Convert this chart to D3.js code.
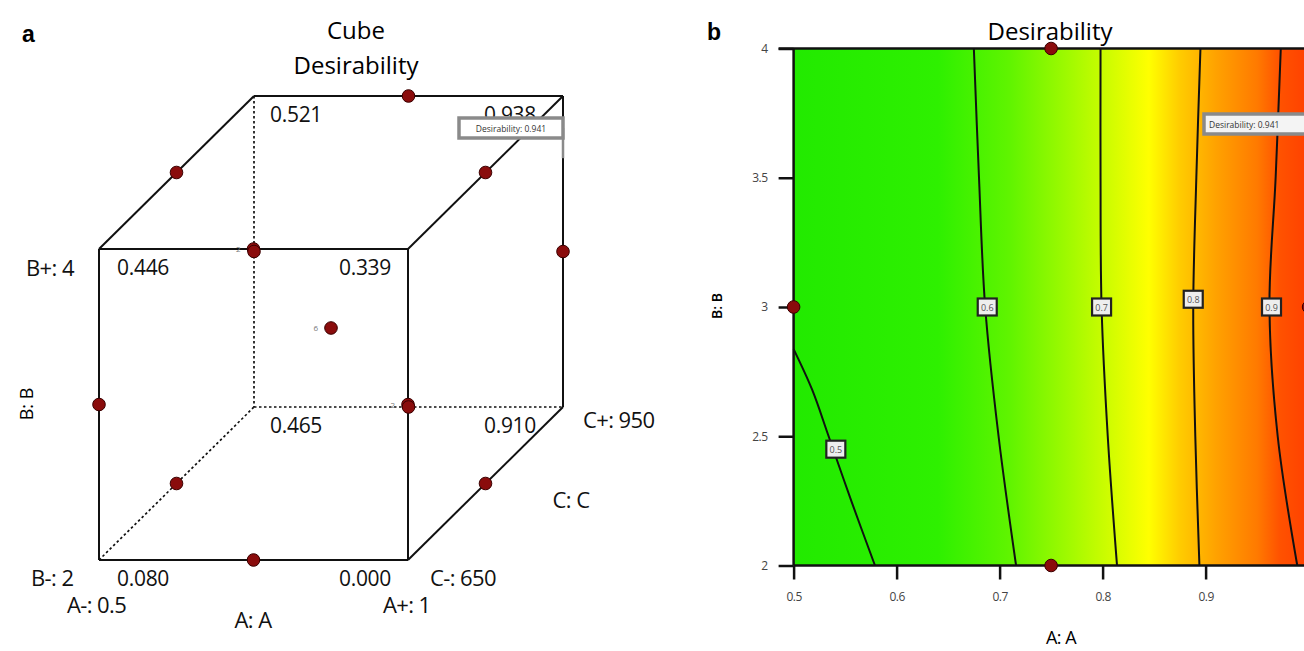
<!DOCTYPE html>
<html>
<head>
<meta charset="utf-8">
<script src="https://cdn.jsdelivr.net/npm/d3@7"></script>
<style>
  html, body { margin: 0; padding: 0; background: #fff; }
  svg { display: block; font-family: "Open Sans", "Noto Sans", sans-serif; }
</style>
</head>
<body>
<svg id="chart" width="1304" height="651"></svg>
<script>
// ---------------- DATA ----------------
// Panel a: cube corners (coded levels A, B, C) and desirability values
const cubeCorners = [
  { A: -1, B:  1, C: -1, value: "0.446" },
  { A:  1, B:  1, C: -1, value: "0.339" },
  { A: -1, B: -1, C: -1, value: "0.080" },
  { A:  1, B: -1, C: -1, value: "0.000" },
  { A: -1, B:  1, C:  1, value: "0.521" },
  { A:  1, B:  1, C:  1, value: "0.938" },
  { A: -1, B: -1, C:  1, value: "0.465" },
  { A:  1, B: -1, C:  1, value: "0.910" }
];
// Box-Behnken design points (edge midpoints + centre)
const cubePoints = [
  { A: 0, B: 1, C: 1 }, { A: -1, B: 1, C: 0 }, { A: 1, B: 1, C: 0 },
  { A: 0, B: 1, C: -1 }, { A: -1, B: 0, C: 1 }, { A: 1, B: 0, C: 1 },
  { A: 0, B: 0, C: 0 }, { A: -1, B: 0, C: -1 }, { A: 1, B: 0, C: -1 },
  { A: 0, B: -1, C: 1 }, { A: -1, B: -1, C: 0 }, { A: 1, B: -1, C: 0 },
  { A: 0, B: -1, C: -1 }
];
const cubeCounts = [
  { A: 0, B: 1, C: -1, n: "2" },
  { A: 1, B: 0, C: -1, n: "2" },
  { A: 0, B: 0, C: 0, n: "6" }
];
const cubeFlagText = "Desirability: 0.941";
const cubeFlagPoint = { A: 1, B: 0.6, C: 1 };

// Panel b: contour plot of desirability over A (x) and B (y)
const xDomain = [0.5, 1.0];
const yDomain = [2, 4];
const xTicks = [0.5, 0.6, 0.7, 0.8, 0.9];
const yTicks = [2, 2.5, 3, 3.5, 4];
const xTickLabels = ["0.5", "0.6", "0.7", "0.8", "0.9"];
const yTickLabels = ["2", "2.5", "3", "3.5", "4"];
// colour ramp along A (desirability rises with A)
const rampA = [0.5, 0.64, 0.71, 0.77, 0.81, 0.845, 0.875, 0.91, 0.95, 0.972, 1.0];
const rampColors = ["#22ea00", "#2ef000", "#60f400", "#a4fa00", "#d4fd00", "#ffff00",
                    "#ffcc00", "#ffa200", "#ff7a00", "#ff5200", "#ff4000"];
// contour lines (A, B) points
const contour05 = [[0.5, 2.837], [0.518, 2.68], [0.534, 2.5], [0.556, 2.25], [0.579, 2.0]];
const contour06 = [[0.675, 4.0], [0.680, 3.5], [0.686, 3.0], [0.699, 2.5], [0.716, 2.0]];
const contour07 = [[0.798, 4.0], [0.798, 3.5], [0.799, 3.0], [0.805, 2.5], [0.814, 2.0]];
const contour08 = [[0.895, 4.0], [0.891, 3.5], [0.888, 3.0], [0.890, 2.5], [0.894, 2.0]];
const contour09 = [[0.973, 4.0], [0.968, 3.5], [0.962, 3.0], [0.970, 2.5], [0.989, 2.0]];
const contourLevels = ["0.5", "0.6", "0.7", "0.8", "0.9"];
const contourLabelPos = [[0.541, 2.45], [0.688, 3.0], [0.799, 3.0], [0.888, 3.03], [0.964, 3.0]];
const designPointsB = [[0.5, 3], [1.0, 3], [0.75, 2], [0.75, 4]];
const plotFlagText = "Desirability: 0.941";

// ---------------- DRAW ----------------
const svg = d3.select("#chart");
const dotFill = "#8a0c0c", dotStroke = "#3a0000";

// ===== Panel a: cube =====
const gA = svg.append("g");
const sx = d3.scaleLinear().domain([-1, 1]).range([99, 408]);
const sy = d3.scaleLinear().domain([-1, 1]).range([560, 249]);
const sdx = d3.scaleLinear().domain([-1, 1]).range([0, 155]);
const sdy = d3.scaleLinear().domain([-1, 1]).range([0, -153]);
const px = d => sx(d.A) + sdx(d.C);
const py = d => sy(d.B) + sdy(d.C);

// edges between corners differing in one coordinate
const edges = [];
cubeCorners.forEach((p, i) => cubeCorners.forEach((q, j) => {
  if (j <= i) return;
  const diff = (p.A !== q.A) + (p.B !== q.B) + (p.C !== q.C);
  if (diff === 1) {
    const hidden = [p, q].some(c => c.A === -1 && c.B === -1 && c.C === 1);
    edges.push({ p, q, hidden });
  }
}));
gA.selectAll("line.edge").data(edges).join("line")
  .attr("x1", d => px(d.p)).attr("y1", d => py(d.p))
  .attr("x2", d => px(d.q)).attr("y2", d => py(d.q))
  .attr("stroke", "#111")
  .attr("stroke-width", d => d.hidden ? 1.7 : 2)
  .attr("stroke-dasharray", d => d.hidden ? "2.5,2.5" : null);

// corner values
gA.selectAll("text.corner").data(cubeCorners).join("text")
  .attr("x", d => px(d) + (d.A < 0 ? (d.C > 0 ? 16 : 18) : (d.C > 0 ? -27 : -17)))
  .attr("y", d => py(d) + 26)
  .attr("text-anchor", d => d.A < 0 ? "start" : "end")
  .attr("font-size", 21).attr("fill", "#111").attr("letter-spacing", -0.3)
  .text(d => d.value);

// design points
gA.selectAll("circle.pt").data(cubePoints).join("circle")
  .attr("cx", px).attr("cy", py).attr("r", 6.3)
  .attr("fill", dotFill).attr("stroke", dotStroke).attr("stroke-width", 1);
gA.selectAll("text.cnt").data(cubeCounts).join("text")
  .attr("x", d => px(d) - 13).attr("y", d => py(d) + 3)
  .attr("font-size", 8).attr("fill", "#777").attr("text-anchor", "end")
  .text(d => d.n);

// flag
const fxA = px(cubeFlagPoint), fyA = py(cubeFlagPoint);
gA.append("line").attr("x1", fxA).attr("x2", fxA).attr("y1", 128).attr("y2", fyA)
  .attr("stroke", "#8a8a8a").attr("stroke-width", 2.5);
gA.append("rect").attr("x", 459).attr("y", 118).attr("width", 104).attr("height", 20)
  .attr("fill", "#fff").attr("stroke", "#8a8a8a").attr("stroke-width", 3.5);
gA.append("text").attr("x", 511).attr("y", 131.5).attr("text-anchor", "middle")
  .attr("font-size", 8.5).attr("fill", "#333").text(cubeFlagText);

// titles and labels
gA.append("text").attr("x", 22).attr("y", 42).attr("font-family", "Liberation Sans, Arial, sans-serif")
  .attr("font-weight", "bold").attr("font-size", 23).text("a");
gA.append("text").attr("x", 356).attr("y", 39).attr("text-anchor", "middle").attr("font-size", 24).text("Cube");
gA.append("text").attr("x", 356).attr("y", 74).attr("text-anchor", "middle").attr("font-size", 24).text("Desirability");
const axisLabA = [
  { x: 26, y: 276, t: "B+: 4", a: "start" },
  { x: 31, y: 586, t: "B-: 2", a: "start" },
  { x: 67, y: 613, t: "A-: 0.5", a: "start" },
  { x: 383, y: 613, t: "A+: 1", a: "start" },
  { x: 253, y: 628, t: "A: A", a: "middle" },
  { x: 583, y: 428, t: "C+: 950", a: "start" },
  { x: 430, y: 586, t: "C-: 650", a: "start" },
  { x: 571, y: 508, t: "C: C", a: "middle" }
];
gA.selectAll("text.axl").data(axisLabA).join("text")
  .attr("x", d => d.x).attr("y", d => d.y).attr("text-anchor", d => d.a)
  .attr("font-size", 22).attr("fill", "#111").attr("letter-spacing", -0.6).text(d => d.t);
gA.append("text").attr("transform", "translate(33,404) rotate(-90)")
  .attr("text-anchor", "middle").attr("font-size", 18).text("B: B");

// ===== Panel b: contour =====
const gB = svg.append("g");
const x = d3.scaleLinear().domain(xDomain).range([793.6, 1308.6]);
const y = d3.scaleLinear().domain(yDomain).range([565.5, 48.5]);

const defs = svg.append("defs");
const grad = defs.append("linearGradient").attr("id", "ramp")
  .attr("gradientUnits", "userSpaceOnUse")
  .attr("x1", x(xDomain[0])).attr("x2", x(xDomain[1])).attr("y1", 0).attr("y2", 0);
grad.selectAll("stop").data(rampA).join("stop")
  .attr("offset", d => (x(d) - x(xDomain[0])) / (x(xDomain[1]) - x(xDomain[0])))
  .attr("stop-color", (d, i) => rampColors[i]);

gB.append("rect").attr("x", x(xDomain[0])).attr("y", y(yDomain[1]))
  .attr("width", x(xDomain[1]) - x(xDomain[0])).attr("height", y(yDomain[0]) - y(yDomain[1]))
  .attr("fill", "url(#ramp)");

const line = d3.line().x(d => x(d[0])).y(d => y(d[1])).curve(d3.curveCatmullRom);
const contours = [contour05, contour06, contour07, contour08, contour09];
gB.selectAll("path.ct").data(contours).join("path")
  .attr("d", line).attr("fill", "none").attr("stroke", "#111").attr("stroke-width", 2);

// contour labels
const cl = gB.selectAll("g.cl").data(contourLevels).join("g")
  .attr("transform", (d, i) => `translate(${x(contourLabelPos[i][0])},${y(contourLabelPos[i][1])})`);
cl.append("rect").attr("x", -9.5).attr("y", -8.5).attr("width", 19).attr("height", 17)
  .attr("fill", "#eeeeee").attr("stroke", "#222").attr("stroke-width", 2.2);
cl.append("text").attr("y", 3.5).attr("text-anchor", "middle").attr("font-size", 9)
  .attr("fill", "#555").text(d => d);

// axes
const yAxis = d3.axisLeft(y).tickValues(yTicks).tickSize(15).tickPadding(11)
  .tickFormat((d, i) => yTickLabels[i]);
const gy = gB.append("g").attr("transform", `translate(${x(xDomain[0])},0)`).call(yAxis);
const xAxis = d3.axisBottom(x).tickValues(xTicks).tickSize(14).tickPadding(13)
  .tickFormat((d, i) => xTickLabels[i]);
const gx = gB.append("g").attr("transform", `translate(0,${y(yDomain[0])})`).call(xAxis);
[gx, gy].forEach(g => {
  g.select(".domain").attr("stroke", "#111").attr("stroke-width", 2.5);
  g.selectAll(".tick line").attr("stroke", "#111").attr("stroke-width", 2.5);
  g.selectAll(".tick text").attr("font-size", 12).attr("fill", "#444")
    .attr("font-family", "Open Sans, sans-serif").attr("letter-spacing", -0.5);
});
gy.select(".domain").attr("d", `M0,${y(yDomain[1])}V${y(yDomain[0])}`);
gx.select(".domain").attr("d", `M${x(xDomain[0])},0H${x(xDomain[1])}`);
// top frame
gB.append("line").attr("x1", x(xDomain[0]) - 15).attr("x2", x(xDomain[1]))
  .attr("y1", y(yDomain[1])).attr("y2", y(yDomain[1])).attr("stroke", "#111").attr("stroke-width", 2.5);

// design points
gB.selectAll("circle.dp").data(designPointsB).join("circle")
  .attr("cx", d => x(d[0])).attr("cy", d => y(d[1])).attr("r", 6.3)
  .attr("fill", dotFill).attr("stroke", dotStroke).attr("stroke-width", 1);

// flag
gB.append("rect").attr("x", 1204).attr("y", 114).attr("width", 110).attr("height", 20)
  .attr("fill", "#f4f4f4").attr("stroke", "#8a8a8a").attr("stroke-width", 3.5);
gB.append("text").attr("x", 1209).attr("y", 127.5).attr("font-size", 8.5).attr("fill", "#333")
  .text(plotFlagText);

// titles
gB.append("text").attr("x", 707).attr("y", 40).attr("font-family", "Liberation Sans, Arial, sans-serif")
  .attr("font-weight", "bold").attr("font-size", 23).text("b");
gB.append("text").attr("x", 1050).attr("y", 40).attr("text-anchor", "middle").attr("font-size", 24).text("Desirability");
gB.append("text").attr("x", 1061).attr("y", 644).attr("text-anchor", "middle").attr("font-size", 18)
  .attr("letter-spacing", -0.5).text("A: A");
gB.append("text").attr("transform", "translate(722,306) rotate(-90)")
  .attr("text-anchor", "middle").attr("font-size", 14).attr("font-weight", 600).text("B: B");
</script>
</body>
</html>
